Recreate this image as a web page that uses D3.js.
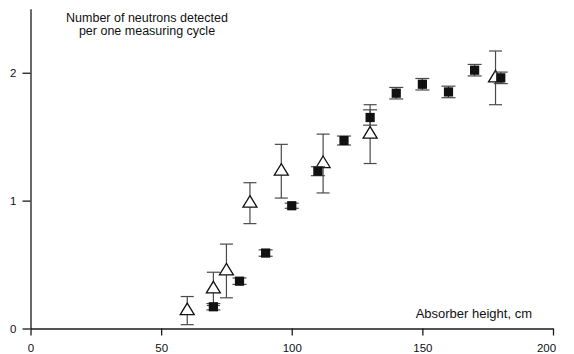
<!DOCTYPE html>
<html>
<head>
<meta charset="utf-8">
<script src="https://cdn.jsdelivr.net/npm/d3@7"></script>
<style>
  body { margin: 0; background: #fff; }
  text { font-family: Arial, "Liberation Sans", Helvetica, sans-serif; fill: #111; }
</style>
</head>
<body>
<script>
// filled squares
var sqHeights = [70, 80, 90, 100, 110, 120, 130, 140, 150, 160, 170, 180];
var sqCounts  = [0.17, 0.37, 0.59, 0.96, 1.23, 1.47, 1.65, 1.84, 1.91, 1.85, 2.02, 1.96];
var sqErr     = [0.025, 0.025, 0.025, 0.02, 0.035, 0.035, 0.06, 0.045, 0.045, 0.045, 0.045, 0.045];

// open triangles
var triHeights = [60, 70, 75, 84, 96, 112, 130, 178];
var triCounts  = [0.14, 0.31, 0.45, 0.98, 1.23, 1.29, 1.52, 1.96];
var triErr     = [0.11, 0.13, 0.21, 0.16, 0.21, 0.23, 0.23, 0.21];

var xTicks = [0, 50, 100, 150, 200], xMinor = [25, 75, 125, 175];
var yTicks = [0, 1, 2], yMinor = [0.5, 1.5, 2.5];

var width = 574, height = 354;

var x = d3.scaleLinear().domain([0, 200]).range([30.5, 553]);
var y = d3.scaleLinear().domain([0, 2.5]).range([328.5, 8.8]);

var svg = d3.select("body").append("svg")
    .attr("width", width)
    .attr("height", height);

// axes
var gx = svg.append("g").attr("transform", "translate(0," + y(0) + ")");
gx.call(d3.axisBottom(x).tickValues(xMinor).tickSize(4).tickSizeOuter(0).tickFormat(""));
gx.call(d3.axisBottom(x).tickValues(xTicks).tickSize(7).tickSizeOuter(0).tickPadding(8));

var gy = svg.append("g").attr("transform", "translate(" + x(0) + ",0)");
gy.call(d3.axisLeft(y).tickValues(yMinor).tickSize(4).tickSizeOuter(0).tickFormat(""));
gy.call(d3.axisLeft(y).tickValues(yTicks).tickSize(8).tickSizeOuter(0).tickPadding(6).tickFormat(d3.format("d")));

svg.selectAll(".domain, .tick line")
    .attr("stroke", "#1a1a1a")
    .attr("stroke-width", 1.3);
svg.selectAll(".tick text")
    .attr("font-size", 11.5)
    .attr("font-family", "Arial, 'Liberation Sans', sans-serif");
// last x label sits a bit inside the axis end
gx.selectAll(".tick text").filter(function (d) { return d === 200; }).attr("dx", -7);

// error bars
function errorBars(xs, ys, es, cap, cls) {
    var g = svg.append("g").attr("class", cls)
        .attr("stroke", "#4a4a4a").attr("stroke-width", 1.2);
    xs.forEach(function (h, i) {
        var cx = x(h), y1 = y(ys[i] + es[i]), y2 = y(ys[i] - es[i]);
        g.append("line").attr("x1", cx).attr("x2", cx).attr("y1", y1).attr("y2", y2);
        g.append("line").attr("x1", cx - cap).attr("x2", cx + cap).attr("y1", y1).attr("y2", y1);
        g.append("line").attr("x1", cx - cap).attr("x2", cx + cap).attr("y1", y2).attr("y2", y2);
    });
}

errorBars(triHeights, triCounts, triErr, 6.5, "tri-err");

svg.append("g").selectAll("path")
    .data(triHeights)
    .enter().append("path")
    .attr("d", function (h, i) {
        var cx = x(h), cy = y(triCounts[i]);
        return "M" + cx + "," + (cy - 7.5) + "L" + (cx + 7) + "," + (cy + 4) + "L" + (cx - 7) + "," + (cy + 4) + "Z";
    })
    .attr("fill", "#fff")
    .attr("stroke", "#111")
    .attr("stroke-width", 1.3);

errorBars(sqHeights, sqCounts, sqErr, 7, "sq-err");

svg.append("g").selectAll("rect")
    .data(sqHeights)
    .enter().append("rect")
    .attr("x", function (h) { return x(h) - 4.6; })
    .attr("y", function (h, i) { return y(sqCounts[i]) - 4.6; })
    .attr("width", 9.2)
    .attr("height", 9.2)
    .attr("fill", "#111");

// captions
var title = svg.append("text")
    .attr("x", 147)
    .attr("text-anchor", "middle")
    .attr("font-size", 12.5);
title.append("tspan").attr("x", 147).attr("y", 21.5).text("Number of neutrons detected");
title.append("tspan").attr("x", 147).attr("y", 35).text("per one measuring cycle");

svg.append("text")
    .attr("x", 532)
    .attr("y", 317.5)
    .attr("text-anchor", "end")
    .attr("font-size", 13)
    .text("Absorber height, cm");
</script>
</body>
</html>
